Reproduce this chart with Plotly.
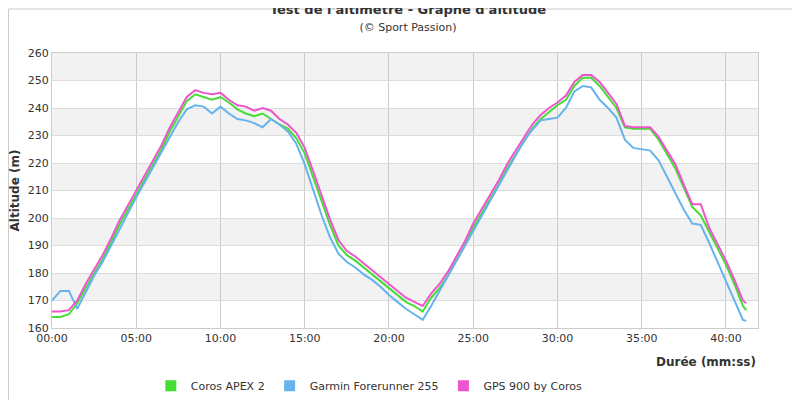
import plotly.graph_objects as go

t = [0,0.5,1,1.5,2,2.5,3,3.5,4,4.5,5,5.5,6,6.5,7,7.5,8,8.5,9,9.5,10,10.5,11,11.5,12,12.5,13,13.5,14,14.5,15,15.5,16,16.5,17,17.5,18,18.5,19,19.5,20,20.5,21,21.5,22,22.5,23,23.5,24,24.5,25,25.5,26,26.5,27,27.5,28,28.5,29,29.5,30,30.5,31,31.5,32,32.5,33,33.5,34,34.5,35,35.5,36,36.5,37,37.5,38,38.5,39,39.5,40,40.5,41,41.2]

coros = [164,164,165,169,174.5,179.5,185,191,197.5,203,208.5,214,219.5,225,231.5,237,242.5,245,244,243,244,242,239.5,238,237,238,236,234,232.5,229,223.5,215,206,197.5,190,186.5,184.5,182,179.5,177,174.5,172,169.5,168,166,171,174.5,179,184.5,190,196.5,201.5,206.5,212,218,223,228,232.5,236,238.5,241,243,248,251,251,248,244,240,233,232.5,232.5,232.5,228.5,223,218,211,204,201,195,189,183,176,168,166.5]

garmin = [170,173.5,173.5,167,173,179,184,190,196,202,207.5,213,218.5,224,230,235,239.5,241,240.5,238,240.5,238,236,235.5,234.5,233,236,234,231.5,227,219.5,210,201,193,187,184,182,179.5,177.5,175,172,169.5,167,165,163,168,173.5,178.5,184,189.5,195.5,201,206,211.5,217.5,223,228,232,235.5,236,236.5,240,246,248,247.5,243,240,236.5,228.5,225.5,225,224.5,221,215,209,203,198,197.5,191,184,177,170,163,162.5]

gps900 = [166,166,166.5,170,176,181,186.5,192.5,199,204.5,210,215.5,221,226.5,233,238.5,244,246.5,245.5,245,245.5,243,241,240.5,239,240,239,236,234,231,225.5,217,208,199.5,192,188,186,183.5,181,178.5,176,173.5,171,169.5,168,172.5,176,180.5,186,191.5,198,203,208,213.5,219.5,224.5,229.5,234,237.5,240,242,244.5,249.5,252,252,249.5,245.5,241.5,233.5,233,233,233,229.5,224.5,219.5,212,205,205,196.5,190.5,184.5,177.5,170,169]

names = ["Coros APEX 2", "Garmin Forerunner 255", "GPS 900 by Coros"]
colors = ["#44dd33", "#66b3ee", "#ee55cc"]
tick_vals = [0,5,10,15,20,25,30,35,40]
tick_text = ["00:00","05:00","10:00","15:00","20:00","25:00","30:00","35:00","40:00"]

fig = go.Figure()
shapes = []
for y0 in [170,190,210,230,250]:
    shapes.append(dict(type="rect", xref="paper", yref="y", x0=0, x1=1, y0=y0, y1=y0+10,
                       fillcolor="#f2f2f2", line_width=0, layer="below"))
shapes.append(dict(type="rect", xref="paper", yref="paper", x0=-0.0616, x1=1.0694, y0=-0.2873, y1=1.16,
                   line=dict(color="#ccc", width=1)))
for name, ys, c in zip(names, [coros, garmin, gps900], colors):
    fig.add_trace(go.Scatter(x=t, y=ys, name=name, mode="lines", showlegend=False,
                             line=dict(color=c, width=2)))
for name, c in zip(names, colors):
    fig.add_trace(go.Scatter(x=[None], y=[None], name=name, mode="markers",
                             marker=dict(symbol="square", size=11, color=c)))

fig.update_layout(
    width=800, height=400, plot_bgcolor="white", paper_bgcolor="white",
    margin=dict(l=44, r=50, t=45, b=80, autoexpand=False),
    font=dict(family="DejaVu Sans", size=11, color="#333"),
    title=dict(text="<b>Test de l'altimètre - Graphe d'altitude</b><br><span style='font-size:11px'>(© Sport Passion)</span>",
               x=0.5, xanchor="center", y=0.985, yanchor="top", font=dict(size=13, color="#333")),
    legend=dict(orientation="h", x=0.14, xanchor="left", y=-0.21, yanchor="middle", font=dict(size=11)),
    shapes=shapes,
)
fig.update_xaxes(range=[0, 41.9], tickvals=tick_vals, ticktext=tick_text, showgrid=True, gridcolor="#ccc",
                 showline=True, linecolor="#ccc", mirror=True, zeroline=False, ticks="", automargin=False,
                 tickfont=dict(size=11, color="#333"))
fig.update_yaxes(range=[160, 260], dtick=10, showgrid=True, gridcolor="#ddd", showline=True, linecolor="#ccc",
                 mirror=True, zeroline=False, ticks="", automargin=False, tickfont=dict(size=11, color="#333"),
                 title=dict(text="<b>Altitude (m)</b>", font=dict(size=12, color="#333"), standoff=6))
fig.add_annotation(text="<b>Durée (mm:ss)</b>", xref="paper", yref="paper", x=1, y=-0.124,
                   xanchor="right", yanchor="middle", showarrow=False, font=dict(size=12, color="#333"))
fig.write_html("out.html")
